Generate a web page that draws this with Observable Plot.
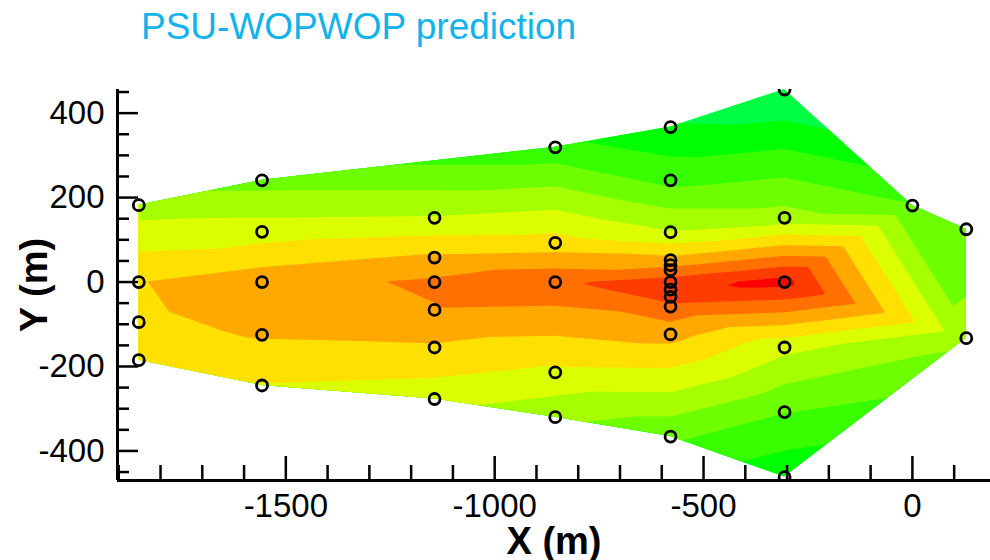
<!DOCTYPE html>
<html>
<head>
<meta charset="utf-8">
<script src="https://cdn.jsdelivr.net/npm/d3@7"></script>
<script src="https://cdn.jsdelivr.net/npm/@observablehq/plot@0.6"></script>
<style>
  body { margin: 0; background: #fff; }
  #wrap { position: relative; width: 990px; height: 560px; overflow: hidden;
          font-family: "Liberation Sans", Arial, Helvetica, sans-serif; }
  #title { position: absolute; left: 141px; top: 8px; font-size: 37px; line-height: 37px;
           color: #12b2ea; white-space: nowrap; }
  #chart { position: absolute; left: 0; top: 56px; }
</style>
</head>
<body>
<div id="wrap">
  <div id="title">PSU-WOPWOP prediction</div>
  <div id="chart"></div>
</div>
<script>
// Microphone positions (m) and predicted overall sound pressure level (dB)
const micX = [
  -1852, -1852, -1852, -1852,
  -1557, -1557, -1557, -1557, -1557,
  -1144, -1144, -1144, -1144, -1144, -1144,
  -855, -855, -855, -855, -855,
  -579, -579, -579, -579, -579, -579, -579, -579, -579, -579, -579, -579,
  -306, -306, -306, -306, -306, -306,
  0,
  129, 129
];
const micY = [
  182, 0, -95, -185,
  241, 119, 0, -125, -245,
  152, 58, 0, -66, -155, -277,
  319, 93, 0, -214, -320,
  367, 241, 118, 52, 40, 28, 0, -18, -35, -58, -124, -366,
  456, 152, 0, -155, -308, -462,
  181,
  125, -133
];
const oaspl = [
  79.0, 83.9, 83.6, 82.6,
  77.2, 81.0, 85.2, 84.2, 81.9,
  80.1, 84.3, 86.3, 85.9, 83.8, 80.8,
  74.6, 82.8, 87.6, 81.6, 78.6,
  72.2, 75.4, 80.1, 84.6, 85.6, 86.6, 88.8, 89.2, 88.8, 87.6, 84.8, 76.4,
  69.8, 78.8, 90.8, 80.6, 76.1, 72.6,
  76.1,
  77.0, 78.6
];

// Outer edge of the measured zone, as microphone indices in drawing order
const zoneOutline = [0, 4, 15, 20, 32, 38, 39, 40, 37, 31, 19, 14, 8, 3, 2, 1];

// Contour levels (dB) and flood colours
const levelFloor = 60;
const levelThresholds = [72, 74, 76, 78, 80, 82, 84, 86, 88, 90];
const levelColors = [
  "#00ff44", "#00ff00", "#37ff00", "#6eff00", "#a5ff00", "#dcff00",
  "#ffe000", "#ffa800", "#ff7000", "#ff3c00", "#ff0000"
];

// Axes
const xDomain = [-1903, 187];
const yDomain = [-470, 456];
const xMajor = [-1500, -1000, -500, 0];
const xMinor = [-1900, -1800, -1700, -1600, -1400, -1300, -1200, -1100, -900, -800, -700, -600, -400, -300, -200, -100, 100];
const yMajor = [-400, -200, 0, 200, 400];
const yMinor = [-450, -350, -300, -250, -150, -100, -50, 50, 100, 150, 250, 300, 350, 450];
const xTitle = "X (m)";
const yTitle = "Y (m)";

const mics = micX.map((x, i) => ({x, y: micY[i], db: oaspl[i]}));
const fmt = d => String(d);

const chart = Plot.plot({
  width: 990,
  height: 504,
  marginLeft: 117,
  marginRight: 0,
  marginTop: 33,
  marginBottom: 80,
  x: {domain: xDomain, axis: null},
  y: {domain: yDomain, axis: null},
  color: {type: "threshold", domain: levelThresholds, range: levelColors},
  style: {fontFamily: "'Liberation Sans', Arial, Helvetica, sans-serif", color: "#000", background: "#fff", overflow: "visible"},
  marks: [
    Plot.contour(mics, {
      x: "x", y: "y", fill: "db",
      interpolate: "barycentric",
      thresholds: [levelFloor, ...levelThresholds],
      stroke: "none"
    }),
    Plot.dot(mics, {x: "x", y: "y", r: 5.5, fill: "none", stroke: "#000", strokeWidth: 2.8, clip: true}),
    // inward tick marks
    Plot.axisX(xMinor, {anchor: "bottom", tickSize: -15, strokeWidth: 2.5, fill: "none", label: null}),
    Plot.axisX(xMajor, {anchor: "bottom", tickSize: -24, strokeWidth: 2.5, fill: "none", label: null}),
    Plot.axisY(yMinor, {anchor: "left", tickSize: -12, strokeWidth: 2.5, fill: "none", label: null}),
    Plot.axisY(yMajor, {anchor: "left", tickSize: -21, strokeWidth: 2.5, fill: "none", label: null}),
    // tick labels
    Plot.axisX(xMajor, {anchor: "bottom", tickSize: 0, tickPadding: 13, fontSize: 33, tickFormat: fmt, label: null}),
    Plot.axisY(yMajor, {anchor: "left", tickSize: 0, tickPadding: 13, fontSize: 33, tickFormat: fmt, label: null}),
    // axis lines
    Plot.ruleX([xDomain[0]], {stroke: "#000", strokeWidth: 3}),
    Plot.ruleY([yDomain[0]], {stroke: "#000", strokeWidth: 3}),
    // axis titles
    Plot.text([yTitle], {text: d => d, frameAnchor: "left", textAnchor: "middle", rotate: -90, dx: -83, fontSize: 38, fontWeight: "bold", fill: "#000"}),
    Plot.text([xTitle], {text: d => d, frameAnchor: "bottom", lineAnchor: "bottom", dy: 73, fontSize: 38, fontWeight: "bold", fill: "#000"})
  ]
});

// Limit the contour flood to the outline of the measured zone
const sx = chart.scale("x"), sy = chart.scale("y");
const ring = zoneOutline.map(i => [sx.apply(micX[i]), sy.apply(micY[i])]);
const ns = "http://www.w3.org/2000/svg";
const defs = document.createElementNS(ns, "defs");
const clip = document.createElementNS(ns, "clipPath");
clip.setAttribute("id", "zone-outline");
const clipShape = document.createElementNS(ns, "path");
clipShape.setAttribute("d", "M" + ring.map(p => p.join(",")).join("L") + "Z");
clip.appendChild(clipShape);
defs.appendChild(clip);
chart.insertBefore(defs, chart.firstChild);
const flood = chart.querySelector('g[aria-label="contour"]');
if (flood) {
  flood.removeAttribute("transform");
  flood.setAttribute("clip-path", "url(#zone-outline)");
}

document.getElementById("chart").appendChild(chart);
</script>
</body>
</html>
